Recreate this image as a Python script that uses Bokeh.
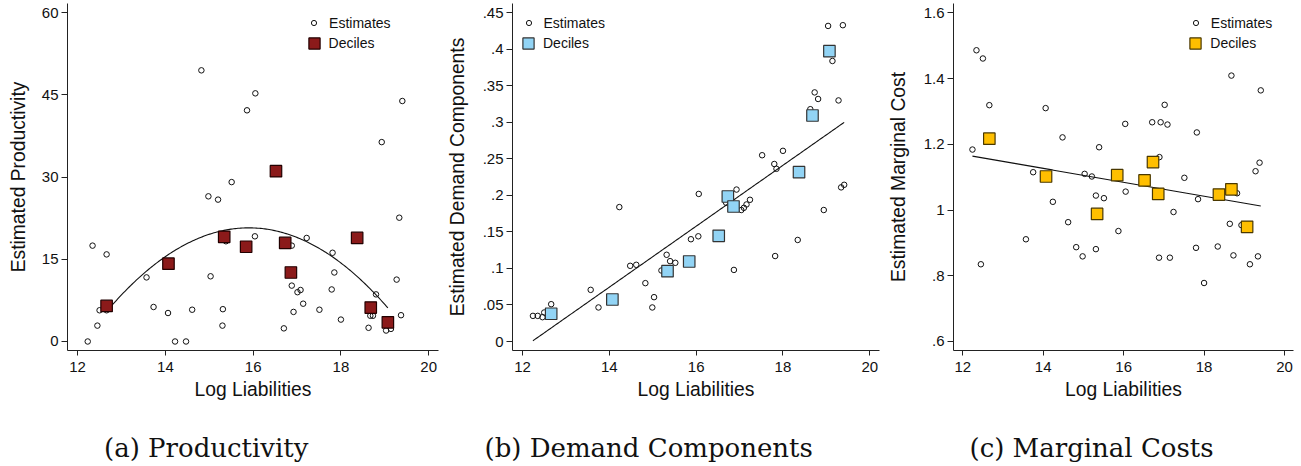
import numpy as np
from bokeh.plotting import figure
from bokeh.layouts import row, column
from bokeh.models import FixedTicker, Legend, LegendItem, Title
from bokeh.embed import file_html
from bokeh.resources import INLINE

# ---------------- data ----------------
x_ticks = [12, 14, 16, 18, 20]
x_title = "Log Liabilities"

dec_x = [12.66, 14.07, 15.34, 15.84, 16.52, 16.73, 16.86, 18.37, 18.68, 19.07]

# Panel (a) Productivity
est1_x = [12.23, 12.34, 12.45, 12.50, 12.66, 12.66, 13.57, 13.73, 14.06, 14.22, 14.47, 14.61,
          14.82, 14.98, 15.03, 15.20, 15.30, 15.31, 15.38, 15.51, 15.86, 16.04, 16.05, 16.70,
          16.88, 16.88, 16.92, 17.01, 17.08, 17.14, 17.22, 17.51, 17.79, 17.81, 17.85, 18.00,
          18.63, 18.67, 18.73, 18.80, 18.93, 19.03, 19.14, 19.27, 19.33, 19.37, 19.40]
est1_y = [0, 17.5, 2.9, 5.7, 15.9, 5.7, 11.7, 6.3, 5.2, 0, 0, 5.8,
          49.5, 26.5, 11.9, 25.9, 2.9, 5.9, 18.3, 29.1, 42.2, 19.2, 45.3, 2.4,
          17.5, 10.2, 5.4, 9.0, 9.4, 6.9, 18.9, 5.8, 9.5, 16.2, 12.6, 4.0,
          2.5, 4.7, 4.7, 8.6, 36.4, 2.0, 2.3, 11.3, 22.6, 4.8, 43.9]
dec1_y = [6.5, 14.2, 19.1, 17.3, 31.1, 18.0, 12.6, 18.9, 6.2, 3.5]
fit1_coef = [-1.455, 46.269, -347.09]   # quadratic fit (highest power first)
fit1_range = [12.66, 19.07]
y1_ticks = [0, 15, 30, 45, 60]
y1_labels = ["0", "15", "30", "45", "60"]

# Panel (b) Demand Components
est2_x = [12.24, 12.35, 12.46, 12.50, 12.66, 13.57, 13.75, 14.23, 14.48, 14.62,
          14.83, 14.99, 15.03, 15.20, 15.32, 15.40, 15.52, 15.88, 16.06, 16.05,
          16.69, 16.87, 16.93, 17.04, 17.10, 17.16, 17.24, 17.52, 17.80, 17.82,
          17.85, 18.00, 18.34, 18.63, 18.73, 18.81, 18.94, 19.04, 19.14, 19.28,
          19.34, 19.41, 19.38]
est2_y = [0.0351, 0.0351, 0.0333, 0.0397, 0.0511, 0.0707, 0.0466, 0.184, 0.1036, 0.105,
          0.0799, 0.0466, 0.0607, 0.0972, 0.1187, 0.110, 0.1077, 0.140, 0.202, 0.144,
          0.190, 0.098, 0.208, 0.180, 0.183, 0.1876, 0.194, 0.255, 0.243, 0.117,
          0.2364, 0.261, 0.139, 0.318, 0.341, 0.332, 0.180, 0.432, 0.384, 0.330,
          0.211, 0.2145, 0.433]
dec2_y = [0.038, 0.0575, 0.0963, 0.1095, 0.1447, 0.1985, 0.1848, 0.2318, 0.3094, 0.3975]
fit2_coef = [0.0417, -0.5094]
fit2_range = [12.24, 19.41]
y2_ticks = [0, 0.05, 0.1, 0.15, 0.2, 0.25, 0.3, 0.35, 0.4, 0.45]
y2_labels = ["0", ".05", ".1", ".15", ".2", ".25", ".3", ".35", ".4", ".45"]

# Panel (c) Marginal Costs
est3_x = [12.24, 12.34, 12.45, 12.50, 12.66, 13.57, 13.75, 14.06, 14.24, 14.48,
          14.62, 14.82, 14.98, 15.03, 15.21, 15.31, 15.31, 15.39, 15.51, 15.87,
          16.04, 16.05, 16.71, 16.88, 16.89, 16.92, 17.02, 17.09, 17.15, 17.24,
          17.51, 17.80, 17.82, 17.85, 18.00, 18.34, 18.64, 18.68, 18.73, 18.82,
          18.93, 19.14, 19.28, 19.34, 19.38, 19.41]
est3_y = [1.184, 1.486, 0.835, 1.461, 1.319, 0.911, 1.115, 1.310, 1.025, 1.221,
          0.963, 0.887, 0.859, 1.110, 1.102, 0.881, 1.044, 1.191, 1.036, 0.936,
          1.262, 1.056, 1.267, 0.855, 1.161, 1.267, 1.320, 1.260, 0.855, 0.994,
          1.098, 0.885, 1.236, 1.033, 0.778, 0.889, 0.958, 1.409, 0.862, 1.051,
          0.954, 0.835, 1.118, 0.859, 1.144, 1.364]
dec3_y = [1.217, 1.102, 0.988, 1.106, 1.090, 1.146, 1.049, 1.047, 1.063, 0.949]
fit3_coef = [-0.0212, 1.4235]
fit3_range = [12.24, 19.41]
y3_ticks = [0.6, 0.8, 1.0, 1.2, 1.4, 1.6]
y3_labels = [".6", ".8", "1", "1.2", "1.4", "1.6"]

legend_labels = ["Estimates", "Deciles"]
captions = ["(a) Productivity", "(b) Demand Components", "(c) Marginal Costs"]

# ---------------- styling ----------------
SANS = "Liberation Sans"
MAIN_H = 430
CAP_H = 36
X_RANGE = (11.769, 20.224)


def make_panel(width, min_left, y_range, est_x, est_y, dec_y, coef, frange,
               yticks, ylabels, ytitle, dec_fill, dec_line, leg_off, ylab_standoff):
    p = figure(width=width, height=MAIN_H, x_range=X_RANGE, y_range=y_range,
               output_backend="svg", toolbar_location=None,
               min_border_left=min_left, min_border_right=5,
               min_border_top=3, min_border_bottom=80)
    p.outline_line_color = None
    p.grid.visible = False
    p.background_fill_color = "white"
    p.border_fill_color = "white"

    xa = p.xaxis[0]
    xa.ticker = FixedTicker(ticks=x_ticks)
    xa.axis_label = x_title
    ya = p.yaxis[0]
    ya.ticker = FixedTicker(ticks=yticks)
    ya.major_label_overrides = {t: l for t, l in zip(yticks, ylabels)}
    ya.axis_label = ytitle
    for ax in (xa, ya):
        ax.axis_line_color = "#222222"
        ax.axis_line_width = 1
        ax.major_tick_line_color = "#222222"
        ax.major_tick_in = 0
        ax.minor_tick_line_color = None
        ax.major_label_text_font = SANS
        ax.major_label_text_font_size = "15px"
        ax.major_label_text_color = "#111111"
        ax.axis_label_text_font = SANS
        ax.axis_label_text_font_style = "normal"
        ax.axis_label_text_color = "#111111"
        ax.axis_label_text_font_size = "19.3px"
    xa.major_tick_out = 5
    xa.major_label_standoff = 6
    xa.axis_label_standoff = 4
    ya.major_tick_out = 6
    ya.major_label_standoff = 3
    ya.axis_label_standoff = ylab_standoff

    r_est = p.scatter(est_x, est_y, marker="circle", size=5.5, fill_color=None,
                      line_color="#111111", line_width=1)
    xs = np.linspace(frange[0], frange[1], 200)
    p.line(xs, np.polyval(coef, xs), line_color="#111111", line_width=1.1)
    r_dec = p.scatter(dec_x, dec_y, marker="square", size=11.5, fill_color=dec_fill,
                      line_color=dec_line, line_width=1.2)

    common = dict(padding=0, spacing=0, margin=0, border_line_alpha=0,
                  background_fill_alpha=0, label_text_font=SANS,
                  label_text_font_size="14px", label_text_color="#111111")
    leg1 = Legend(items=[LegendItem(label=legend_labels[0], renderers=[r_est])],
                  glyph_width=13, glyph_height=13, label_height=13, label_standoff=9,
                  location=(leg_off - 6.5, 319.3), **common)
    leg2 = Legend(items=[LegendItem(label=legend_labels[1], renderers=[r_dec])],
                  glyph_width=28, glyph_height=28, label_height=28, label_standoff=1,
                  location=(leg_off - 14, 292.7), **common)
    p.add_layout(leg1)
    p.add_layout(leg2)
    return p


def make_caption(width, min_left, caption, offset):
    c = figure(width=width, height=CAP_H, x_axis_type=None, y_axis_type=None,
               output_backend="svg", toolbar_location=None,
               min_border_left=min_left, min_border_right=5,
               min_border_top=0, min_border_bottom=0)
    c.outline_line_color = None
    c.grid.visible = False
    c.add_layout(Title(text=caption, align="left", text_font="DejaVu Serif",
                       text_font_size="26px", text_font_style="normal",
                       text_color="#111111", offset=offset, standoff=0), "above")
    return c


p1 = make_panel(443, 67, (-1.643, 61.70), est1_x, est1_y, dec1_y, fit1_coef, fit1_range,
                y1_ticks, y1_labels, "Estimated Productivity",
                "#8B1A1A", "#220000", 246.6, 10)
p2 = make_panel(441, 68, (-0.01232, 0.4627), est2_x, est2_y, dec2_y, fit2_coef, fit2_range,
                y2_ticks, y2_labels, "Estimated Demand Components",
                "#92D4F5", "#333333", 16.0, 12)
p3 = make_panel(414, 68, (0.5726, 1.6283), est3_x, est3_y, dec3_y, fit3_coef, fit3_range,
                y3_ticks, y3_labels, "Estimated Marginal Cost",
                "#FFBF00", "#4A3800", 242.3, 12)

c1 = make_caption(443, 67, captions[0], 36.5)
c2 = make_caption(441, 68, captions[1], -27)
c3 = make_caption(414, 68, captions[2], 17)

layout = column(row(p1, p2, p3), row(c1, c2, c3))

with open("out.html", "w") as f:
    f.write(file_html(layout, INLINE))
